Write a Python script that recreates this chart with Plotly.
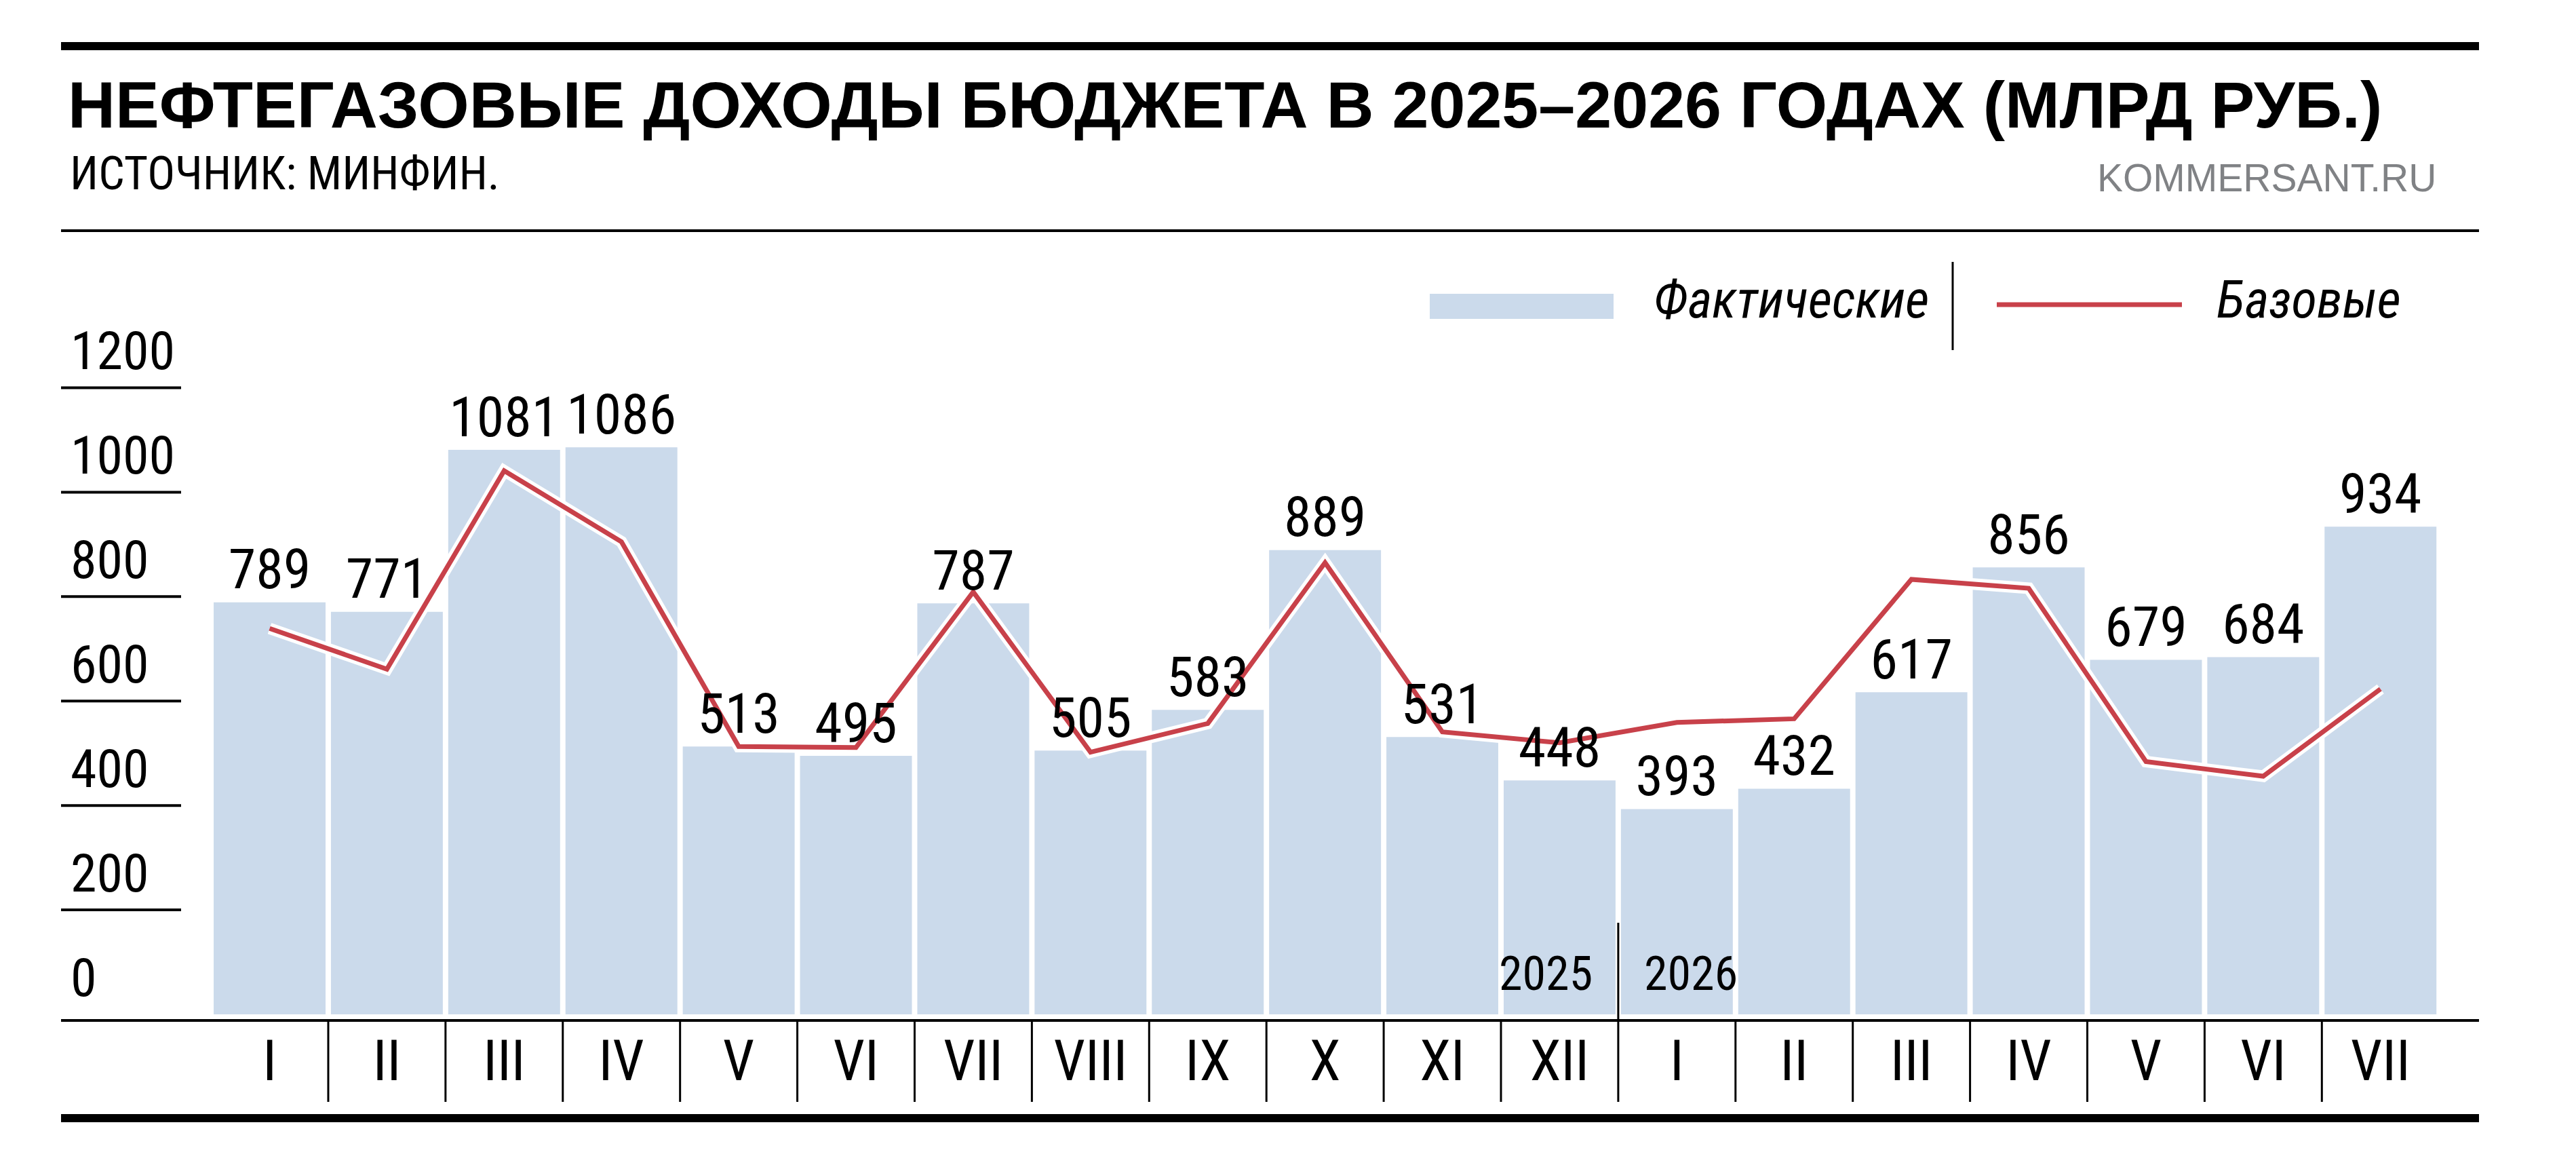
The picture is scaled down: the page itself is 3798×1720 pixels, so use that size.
import plotly.graph_objects as go

# %%
months = ["I", "II", "III", "IV", "V", "VI", "VII", "VIII", "IX", "X", "XI", "XII",
          "I", "II", "III", "IV", "V", "VI", "VII"]
actual = [789, 771, 1081, 1086, 513, 495, 787, 505, 583, 889, 531, 448,
          393, 432, 617, 856, 679, 684, 934]
base = [739, 661, 1041, 905, 513, 511, 809, 502, 557, 865, 541, 520,
        559, 566, 833, 816, 484, 456, 623]
y_ticks = [0, 200, 400, 600, 800, 1000, 1200]
years = ["2025", "2026"]

title = "НЕФТЕГАЗОВЫЕ ДОХОДЫ БЮДЖЕТА В 2025–2026 ГОДАХ (МЛРД РУБ.)"
source = "ИСТОЧНИК: МИНФИН."
brand = "KOMMERSANT.RU"
legend_names = ["Фактические", "Базовые"]

# %%
W, H = 3798, 1720
L, R, T, B = 82, 151, 400, 226
PW, PH = W - L - R, H - T - B

NARROW = "Roboto Condensed, DejaVu Sans Condensed, sans-serif"
BAR = "#cbdaeb"
RED = "#c8414a"


def px(x):
    return (x - L) / PW


def py(y):
    return (H - B - y) / PH


idx = list(range(len(months)))

fig = go.Figure()
fig.add_trace(go.Bar(x=idx, y=actual, width=0.954, marker_color=BAR,
                     marker_line_width=0, hoverinfo="skip"))
fig.add_trace(go.Scatter(x=idx, y=base, mode="lines",
                         line=dict(color="white", width=17), hoverinfo="skip"))
fig.add_trace(go.Scatter(x=idx, y=base, mode="lines",
                         line=dict(color=RED, width=7), hoverinfo="skip"))
fig.add_trace(go.Scatter(x=idx, y=actual, mode="text", text=[str(v) for v in actual],
                         textposition="top center", cliponaxis=False,
                         textfont=dict(family=NARROW, size=82, color="black"),
                         hoverinfo="skip"))

shapes = []
# rules
for y, w in [(60, 12), (332, 4), (1640, 12)]:
    shapes.append(dict(type="line", xref="paper", yref="paper", x0=0, x1=1,
                       y0=py(y), y1=py(y), line=dict(color="black", width=w)))
# short gridlines at the left
for v in y_ticks[1:]:
    shapes.append(dict(type="line", xref="paper", yref="y", x0=0, x1=px(259),
                       y0=v, y1=v, line=dict(color="black", width=4)))
# separators between months
for i in idx[:-1]:
    top = py(1352) if i == 11 else 0
    shapes.append(dict(type="line", xref="x", yref="paper", x0=i + 0.5, x1=i + 0.5,
                       y0=py(1616), y1=top, line=dict(color="black", width=3)))
# legend
shapes.append(dict(type="rect", xref="paper", yref="paper", x0=px(2100), x1=px(2371),
                   y0=py(462), y1=py(425), fillcolor=BAR, line_width=0))
shapes.append(dict(type="line", xref="paper", yref="paper", x0=px(2871), x1=px(2871),
                   y0=py(508), y1=py(378), line=dict(color="black", width=3)))
shapes.append(dict(type="line", xref="paper", yref="paper", x0=px(2936), x1=px(3209),
                   y0=py(441), y1=py(441), line=dict(color=RED, width=7)))

ann = []
ann.append(dict(text=f"<b>{title}</b>", x=px(90), y=py(146), xanchor="left", yanchor="middle",
                font=dict(family="Liberation Sans", size=97, color="black")))
ann.append(dict(text=source, x=px(93), y=py(248), xanchor="left", yanchor="middle",
                font=dict(family=NARROW, size=68, color="black")))
ann.append(dict(text=brand, x=px(3586), y=py(254), xanchor="right", yanchor="middle",
                font=dict(family="Liberation Sans", size=57, color="#808285")))
ann.append(dict(text=f"<i>{legend_names[0]}</i>", x=px(2428), y=py(434), xanchor="left",
                yanchor="middle", font=dict(family=NARROW, size=77, color="black")))
ann.append(dict(text=f"<i>{legend_names[1]}</i>", x=px(3258), y=py(434), xanchor="left",
                yanchor="middle", font=dict(family=NARROW, size=77, color="black")))
for v in y_ticks:
    ann.append(dict(text=str(v), x=px(94), y=v, yref="y", xanchor="left",
                    yanchor="bottom", yshift=6,
                    font=dict(family=NARROW, size=78, color="black")))
ann.append(dict(text=years[0], x=11.5, xref="x", y=py(1427), xanchor="right",
                yanchor="middle", xshift=-36, font=dict(family=NARROW, size=70, color="black")))
ann.append(dict(text=years[1], x=11.5, xref="x", y=py(1427), xanchor="left",
                yanchor="middle", xshift=36, font=dict(family=NARROW, size=70, color="black")))
for a in ann:
    a.setdefault("xref", "paper")
    a.setdefault("yref", "paper")
    a["showarrow"] = False

fig.update_layout(
    width=W, height=H,
    margin=dict(l=L, r=R, t=T, b=B),
    paper_bgcolor="white", plot_bgcolor="white",
    showlegend=False,
    shapes=shapes, annotations=ann,
    xaxis=dict(range=[-1.7785, 18.84], tickmode="array", tickvals=idx, ticktext=months,
               tickfont=dict(family=NARROW, size=83, color="black"),
               showgrid=False, zeroline=False, showline=True, linecolor="black",
               linewidth=4, ticks="", ticklabelstandoff=-14, fixedrange=True),
    yaxis=dict(range=[-9.1, 1412.4], showgrid=False, zeroline=False,
               showticklabels=False, fixedrange=True),
)

fig.write_html("out.html")
